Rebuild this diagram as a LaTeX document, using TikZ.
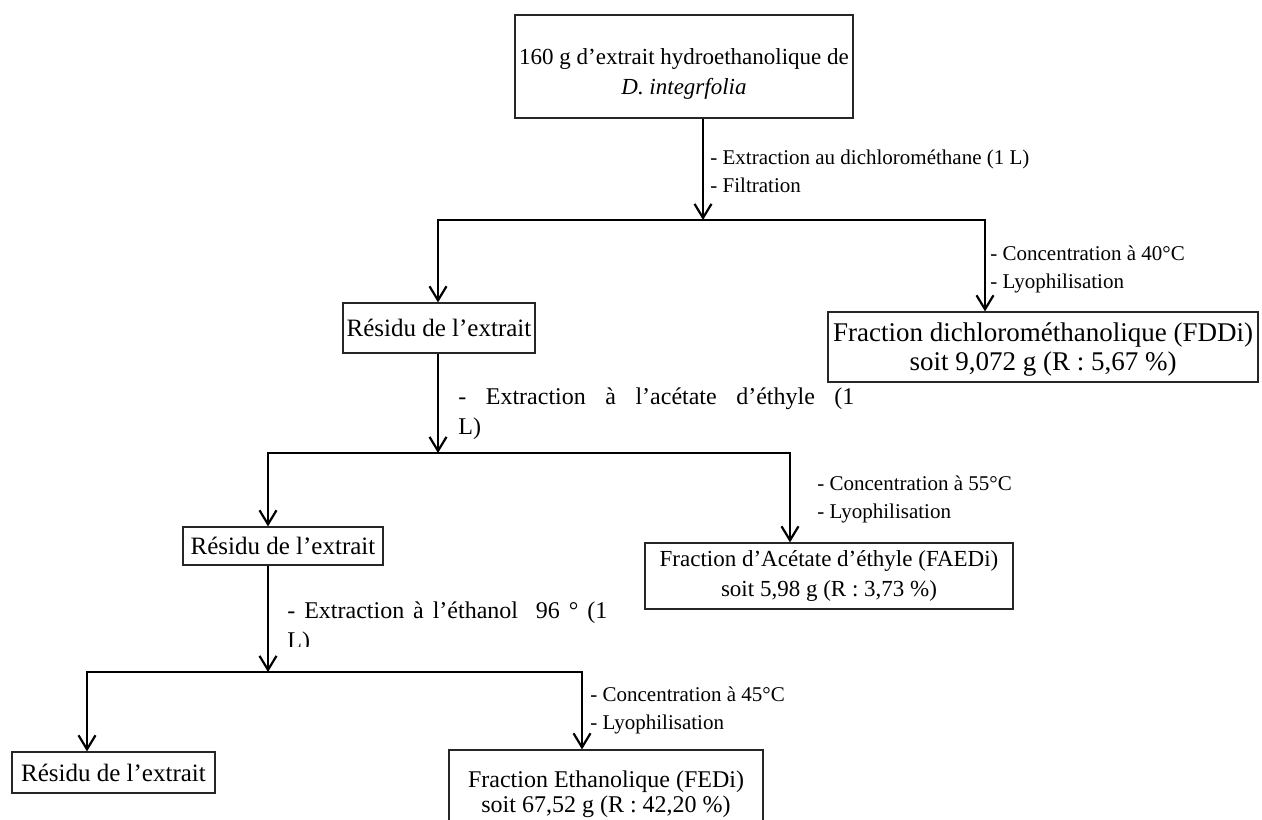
\documentclass[tikz,border=0pt]{standalone}
\usepackage{fontspec}
\setmainfont{Liberation Serif}
\usetikzlibrary{arrows.meta}
\tikzset{>={Straight Barb[length=7pt,width=8.5pt]}}
\tikzset{box/.style={draw=black!85,line width=0.6pt,align=center,inner sep=1pt}}
\tikzset{flow/.style={->,line width=1.1pt,line join=miter}}
\tikzset{note/.style={anchor=west,align=left,inner sep=0pt,font=\fontsize{10.5}{14}\selectfont}}
\tikzset{longnote/.style={note,font=\fontsize{12}{15}\selectfont}}

\begin{document}
\begin{tikzpicture}[x=0.5pt,y=-0.5pt]
                \useasboundingbox (0,0) rectangle (1262,819);

                % boxes
                \node[box,minimum width=169pt,minimum height=51.5pt,font=\fontsize{11.5}{15}\selectfont] (src) at (684,66.5) {\rule{0pt}{15pt}160 g d’extrait hydroethanolique de\\\textit{D. integrfolia}};
                \node[box,minimum width=96pt,minimum height=25pt,font=\fontsize{12.5}{15}\selectfont] (res1) at (439,328) {Résidu de l’extrait};
                \node[box,minimum width=215pt,minimum height=35pt,font=\fontsize{13.5}{14.5}\selectfont] (fddi) at (1043,347) {\rule{0pt}{12pt}Fraction dichlorométhanolique (FDDi)\\soit 9,072 g (R : 5,67 \%)};
                \node[box,minimum width=100pt,minimum height=19pt,font=\fontsize{12.5}{15}\selectfont] (res2) at (283,546) {Résidu de l’extrait};
                \node[box,minimum width=184pt,minimum height=33pt,font=\fontsize{11.5}{15}\selectfont] (faedi) at (829,576) {Fraction d’Acétate d’éthyle (FAEDi)\\soit 5,98 g (R : 3,73 \%)};
                \node[box,minimum width=101.5pt,minimum height=20.5pt,font=\fontsize{12.5}{15}\selectfont] (res3) at (113.5,772.5) {Résidu de l’extrait};
                \node[box,minimum width=157pt,minimum height=44.5pt,font=\fontsize{12}{12.5}\selectfont] (fedi) at (606,794.5) {Fraction Ethanolique (FEDi)\\soit 67,52 g (R : 42,20 \%)};

                % branch points
                \coordinate (j1) at (703,220);
                \coordinate (j1l) at (438,220);
                \coordinate (j1r) at (985,220);
                \coordinate (j2) at (438,453);
                \coordinate (j2l) at (268,453);
                \coordinate (j2r) at (790,453);
                \coordinate (j3) at (268,672);
                \coordinate (j3l) at (87,672);
                \coordinate (j3r) at (582,672);

                \draw[flow] (src.south -| j1) -- (j1);
                \draw[flow] (j1) -| (res1.north -| j1l);
                \draw[flow] (j1) -| (fddi.north -| j1r);

                \draw[flow] (res1.south -| j2) -- (j2);
                \draw[flow] (j2) -| (res2.north -| j2l);
                \draw[flow] (j2) -| (faedi.north -| j2r);

                \draw[flow] (res2.south -| j3) -- (j3);
                \draw[flow] (j3) -| (res3.north -| j3l);
                \draw[flow] (j3) -| (fedi.north -| j3r);

                % step labels
                \node[note] (l1) at (710,171) {- Extraction au dichlorométhane (1 L)\\- Filtration};
                \node[note] (l2) at (990,269) {- Concentration à 40°C\\- Lyophilisation};
                \node[longnote] (l3) at (458,414) {\makebox[198pt][s]{- Extraction à l’acétate d’éthyle (1}\\L)};
                \node[note] (l4) at (817,499) {- Concentration à 55°C\\- Lyophilisation};
                \begin{scope}
                    \clip (280,590) rectangle (640,646);
                    \node[longnote] (l5) at (287,628) {\makebox[160pt][s]{- Extraction à l’éthanol\ \ 96 ° (1}\\L)};
                \end{scope}
                \node[note] (l6) at (590,710) {- Concentration à 45°C\\- Lyophilisation};
            \end{tikzpicture}
\end{document}
